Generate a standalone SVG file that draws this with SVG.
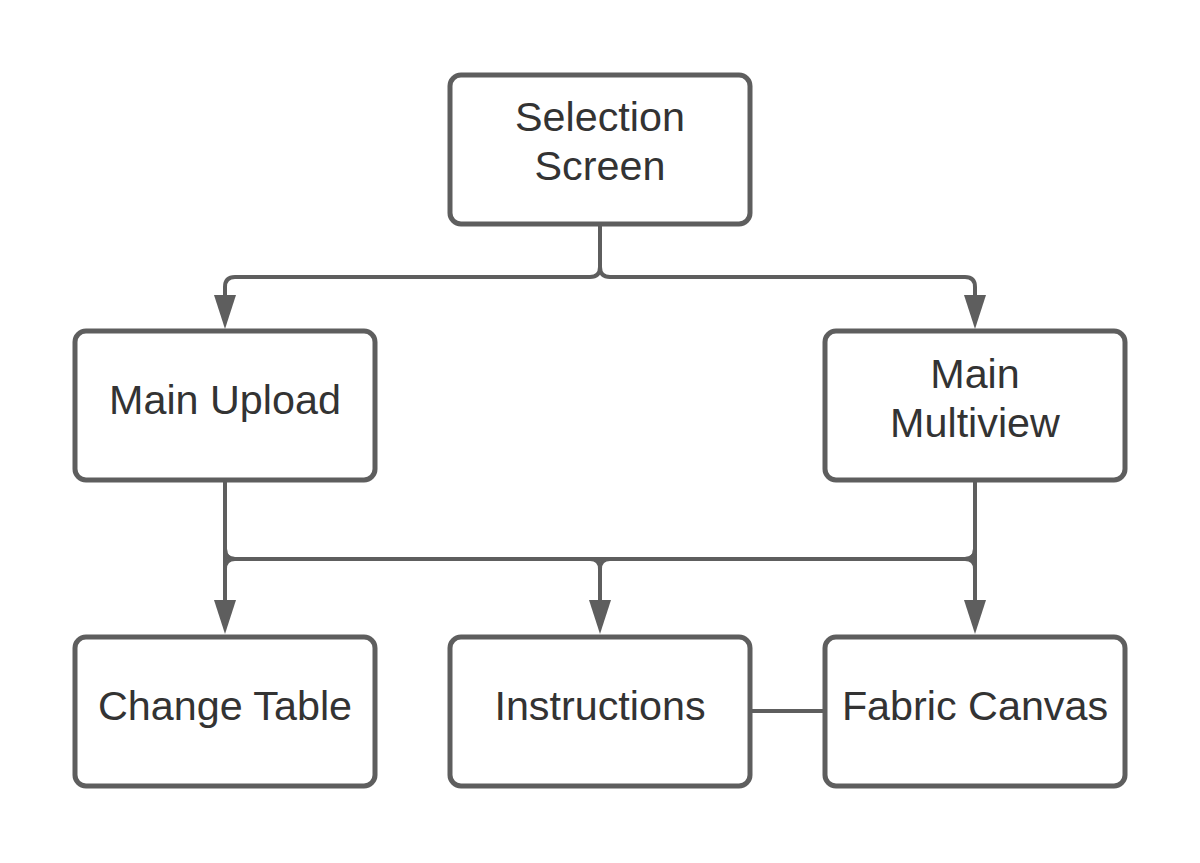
<svg xmlns="http://www.w3.org/2000/svg" xmlns:xlink="http://www.w3.org/1999/xlink" width="1200" height="863" viewBox="0 0 1200 863">
  <style>
    .box { fill: #ffffff; stroke: #5e5e5e; stroke-width: 5; }
    .lbl { font-family: "Liberation Sans", Arial, sans-serif; font-size: 41.3px; fill: #333333; text-anchor: middle; }
    .conn { fill: none; stroke: #5e5e5e; stroke-width: 4; }
    .head { fill: #5e5e5e; }
  </style>
  <defs>
    <polygon id="arrow" class="head" points="-11,-34 11,-34 0,0"/>
  </defs>
  <rect width="1200" height="863" fill="#ffffff"/>

  <g id="connectors">
    <path class="conn" d="M600,224 V267 Q600,277 590,277 H235 Q225,277 225,287 V297"/>
    <path class="conn" d="M600,224 V267 Q600,277 610,277 H965 Q975,277 975,287 V297"/>
    <path class="conn" d="M225,481 V601"/>
    <path class="conn" d="M225,481 V549 Q225,559 235,559 H590 Q600,559 600,569 V601"/>
    <path class="conn" d="M225,481 V549 Q225,559 235,559 H965 Q975,559 975,569 V601"/>
    <path class="conn" d="M975,481 V601"/>
    <path class="conn" d="M975,481 V549 Q975,559 965,559 H610 Q600,559 600,569 V601"/>
    <path class="conn" d="M975,481 V549 Q975,559 965,559 H235 Q225,559 225,569 V601"/>
    <path class="conn" d="M750,711 H825"/>
    <use xlink:href="#arrow" x="225" y="329"/>
    <use xlink:href="#arrow" x="975" y="329"/>
    <use xlink:href="#arrow" x="225" y="634"/>
    <use xlink:href="#arrow" x="600" y="634"/>
    <use xlink:href="#arrow" x="975" y="634"/>
  </g>

  <g id="selection-screen">
    <rect class="box" x="450" y="75" width="300" height="149" rx="11"/>
    <text class="lbl" x="600" y="131">Selection</text>
    <text class="lbl" x="600" y="180">Screen</text>
  </g>
  <g id="main-upload">
    <rect class="box" x="75" y="331" width="300" height="149" rx="11"/>
    <text class="lbl" x="225" y="414">Main Upload</text>
  </g>
  <g id="main-multiview">
    <rect class="box" x="825" y="331" width="300" height="149" rx="11"/>
    <text class="lbl" x="975" y="388">Main</text>
    <text class="lbl" x="975" y="437">Multiview</text>
  </g>
  <g id="change-table">
    <rect class="box" x="75" y="637" width="300" height="149" rx="11"/>
    <text class="lbl" x="225" y="720">Change Table</text>
  </g>
  <g id="instructions">
    <rect class="box" x="450" y="637" width="300" height="149" rx="11"/>
    <text class="lbl" x="600" y="720">Instructions</text>
  </g>
  <g id="fabric-canvas">
    <rect class="box" x="825" y="637" width="300" height="149" rx="11"/>
    <text class="lbl" x="975" y="720">Fabric Canvas</text>
  </g>
</svg>
